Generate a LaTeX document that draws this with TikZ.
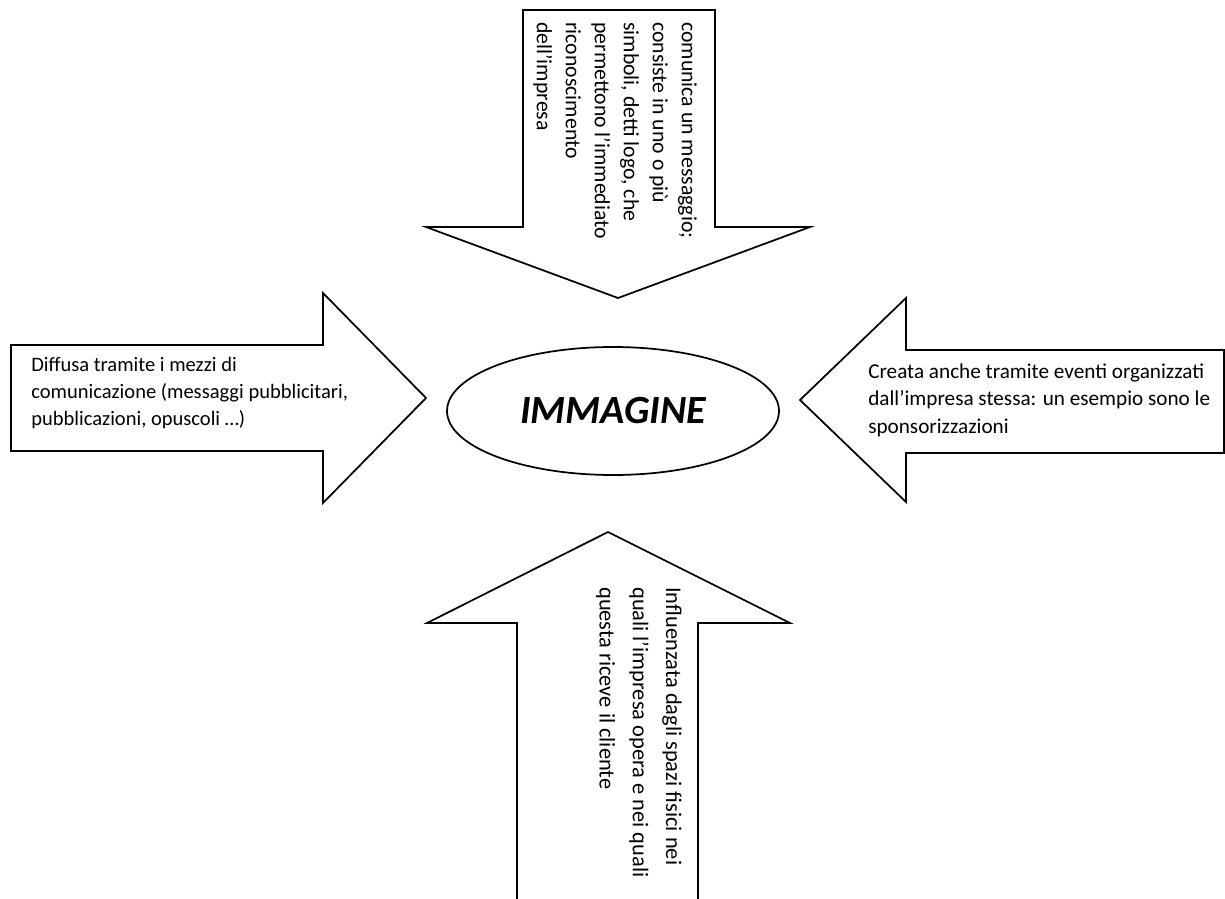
\documentclass[tikz,border=0pt]{standalone}
\usepackage{fontspec}
\setmainfont{Carlito}
\usetikzlibrary{shapes.geometric}
\begin{document}
\begin{tikzpicture}[x=0.75pt,y=-0.75pt,
  shape line/.style={draw=black,line width=1.3pt,fill=white,line join=miter},
  body/.style={inner sep=0pt,align=left},
  title/.style={font=\fontsize{30pt}{36pt}\selectfont\bfseries\itshape}]
\useasboundingbox (0,0) rectangle (1225,899);

% block arrows pointing at the centre
\draw[shape line] (523,10) -- (715,10) -- (715,227) -- (810,227) -- (618,298)
  -- (426,227) -- (523,227) -- cycle;
\draw[shape line] (11,345) -- (323,345) -- (323,293) -- (426,398) -- (323,503)
  -- (323,451) -- (11,451) -- cycle;
\draw[shape line] (1224,350) -- (906,350) -- (906,298) -- (800,400) -- (906,502)
  -- (906,453) -- (1224,453) -- cycle;
\fill[white] (517,910) -- (517,623) -- (427,623) -- (608,532) -- (790,623)
  -- (698,623) -- (698,910) -- cycle;
\draw[shape line,fill=none] (517,910) -- (517,623) -- (427,623) -- (608,532)
  -- (790,623) -- (698,623) -- (698,910);

% central ellipse
\node[draw,line width=1.3pt,ellipse,minimum width=249pt,minimum height=96pt,
  inner sep=0pt,title] (img) at (613,411) {IMMAGINE};

% texts in the arrows
\node[body,rotate=-90,anchor=north west,
  font=\fontsize{16.3pt}{21.75pt}\selectfont] (ttop) at (697,22)
  {comunica un messaggio;\\consiste in uno o più\\simboli, detti logo, che\\permettono l’immediato\\riconoscimento\\dell’impresa};
\node[body,anchor=base west,font=\fontsize{15.4pt}{20pt}\selectfont] (tleft) at (31,425)
  {Diffusa tramite i mezzi di\\comunicazione (messaggi pubblicitari,\\pubblicazioni, opuscoli …)};
\node[body,anchor=base west,font=\fontsize{15.9pt}{20.6pt}\selectfont] (tright) at (868,433)
  {Creata anche tramite eventi organizzati\\dall’impresa stessa: un esempio sono le\\sponsorizzazioni};
\node[body,rotate=-90,anchor=north west,
  font=\fontsize{16.8pt}{25pt}\selectfont] (tbot) at (682,587)
  {Influenzata dagli spazi fisici nei\\quali l’impresa opera e nei quali\\questa riceve il cliente};
\end{tikzpicture}
\end{document}
